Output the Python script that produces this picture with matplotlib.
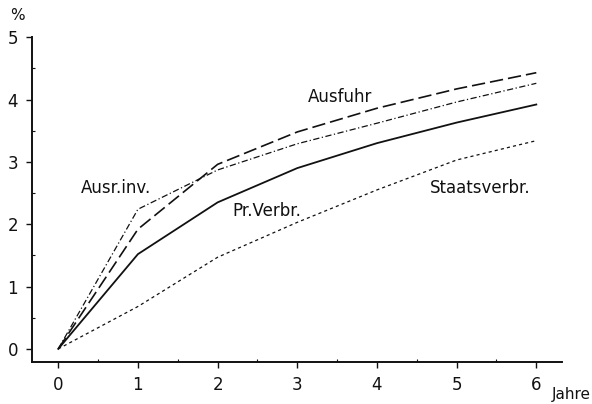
import matplotlib
matplotlib.use("Agg")
from matplotlib import pyplot as plt
from matplotlib.ticker import MultipleLocator

jahre = [0, 1, 2, 3, 4, 5, 6]
ausfuhr = [0, 1.92, 2.96, 3.48, 3.86, 4.17, 4.43]
ausr_inv = [0, 2.24, 2.87, 3.29, 3.62, 3.96, 4.26]
pr_verbr = [0, 1.52, 2.35, 2.90, 3.30, 3.63, 3.92]
staatsverbr = [0, 0.68, 1.47, 2.03, 2.55, 3.03, 3.34]

labels = {
    "Ausfuhr": (3.54, 4.04),
    "Ausr.inv.": (0.73, 2.58),
    "Pr.Verbr.": (2.62, 2.21),
    "Staatsverbr.": (5.29, 2.58),
}

plt.rcParams['font.family'] = ['DejaVu Sans']
ink = "#111111"

fig = plt.figure(figsize=(5.92, 4.04), dpi=100)
ax = fig.add_axes([0.054, 0.104, 0.895, 0.804])

ax.plot(jahre, ausfuhr, color=ink, lw=1.2, dashes=(8, 3))
ax.plot(jahre, ausr_inv, color=ink, lw=0.9, dashes=(5, 2, 1, 2))
ax.plot(jahre, pr_verbr, color=ink, lw=1.3)
ax.plot(jahre, staatsverbr, color=ink, lw=0.9, dashes=(2.5, 2.5))

for name, (x, y) in labels.items():
    ax.text(x, y, name, ha="center", va="center", fontsize=12, color=ink)

ax.set_xlim(-0.33, 6.32)
ax.set_ylim(-0.21, 5.0)
ax.set_xticks(jahre)
ax.set_yticks([0, 1, 2, 3, 4, 5])
ax.xaxis.set_minor_locator(MultipleLocator(0.5))
ax.yaxis.set_minor_locator(MultipleLocator(0.5))
ax.tick_params(which="major", direction="out", length=4, width=1.0,
               labelsize=12, colors=ink, pad=6)
ax.tick_params(which="minor", direction="in", length=2, width=0.8, colors=ink)

for side in ["top", "right"]:
    ax.spines[side].set_visible(False)
for side in ["left", "bottom"]:
    ax.spines[side].set_linewidth(1.4)
    ax.spines[side].set_color(ink)

fig.text(17 / 592, 1 - 16 / 404, "%", fontsize=11, ha="center", va="center", color=ink)
fig.text(591 / 592, 1 - 394 / 404, "Jahre", fontsize=11, ha="right", va="center", color=ink)

fig.savefig("out.png", dpi=100)
